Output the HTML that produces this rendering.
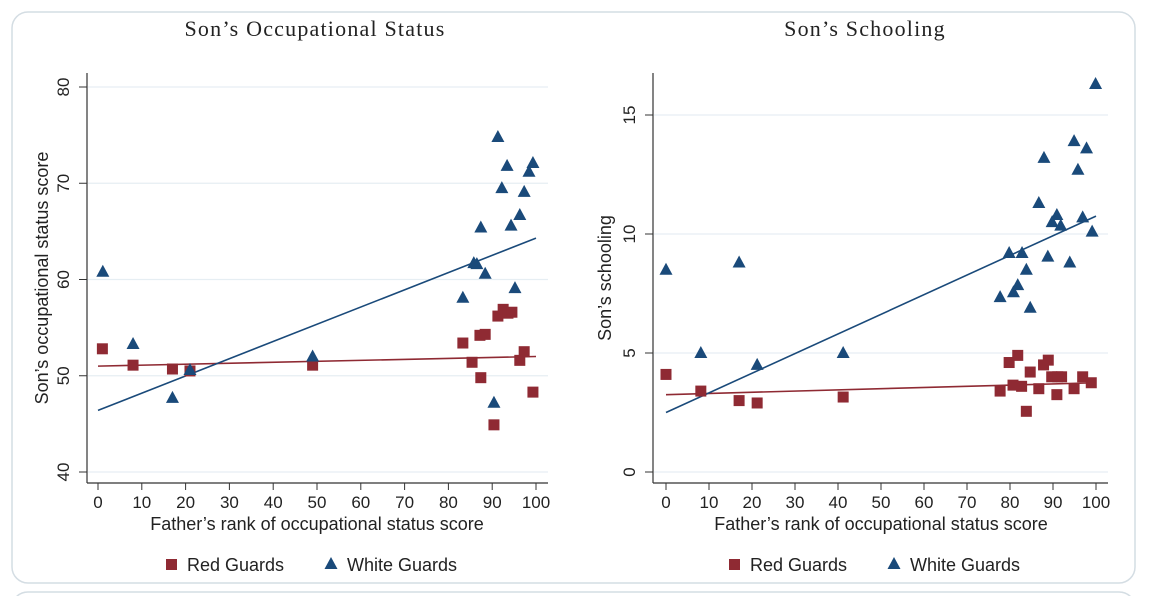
<!DOCTYPE html>
<html><head><meta charset="utf-8">
<style>
html,body{margin:0;padding:0;background:#fff;width:1152px;height:596px;overflow:hidden}
svg{display:block}
text{font-family:"Liberation Sans",sans-serif;fill:#222}
.ttl{font-family:"Liberation Serif",serif;font-size:22px;letter-spacing:1.2px}
</style></head>
<body>
<svg id="chart" width="1152" height="596">
<rect x="12" y="12" width="1123" height="571" rx="16" fill="#fff" stroke="#d4dde3" stroke-width="1.5"/>
<rect x="12" y="592" width="1123" height="30" rx="16" fill="#fff" stroke="#d4dde3" stroke-width="1.5"/>
</svg>
<script>
// Left panel data
const leftRedX=[1,8,17,21,49,83.3,85.4,87.2,88.4,87.4,91.3,92.5,93.6,94.5,97.3,96.3,99.3,90.4];
const leftRedY=[52.8,51.1,50.7,50.5,51.1,53.4,51.4,54.2,54.3,49.8,56.2,56.9,56.5,56.6,52.5,51.6,48.3,44.9];
const leftWhiteX=[1.1,8,17,21,49,91.3,93.4,99.3,98.4,92.2,97.3,96.3,94.3,87.4,85.8,86.5,88.4,95.2,83.3,90.4];
const leftWhiteY=[60.8,53.3,47.7,50.6,52.0,74.8,71.8,72.1,71.2,69.5,69.1,66.7,65.6,65.4,61.7,61.6,60.6,59.1,58.1,47.2];
const leftFitRed=[51.0,52.0];
const leftFitWhite=[46.4,64.3];
const leftYTicks=[40,50,60,70,80];
// Right panel data
const rightRedX=[0,8.1,17,21.2,41.2,79.8,81.8,84.7,87.8,88.9,89.7,91.1,92.0,96.9,98.9,77.7,80.7,82.7,86.7,94.9,90.9,83.8];
const rightRedY=[4.1,3.4,3.0,2.9,3.15,4.6,4.9,4.2,4.5,4.7,4.0,4.0,4.0,4.0,3.75,3.4,3.65,3.6,3.5,3.5,3.25,2.55];
const rightWhiteX=[0,8.1,17,21.2,41.2,99.9,94.9,97.8,87.9,95.8,86.7,90.9,89.8,91.8,96.9,99.1,79.8,82.8,88.8,93.9,83.8,81.8,80.8,77.7,84.7];
const rightWhiteY=[8.5,5.0,8.8,4.5,5.0,16.3,13.9,13.6,13.2,12.7,11.3,10.8,10.5,10.35,10.7,10.1,9.2,9.2,9.05,8.8,8.5,7.85,7.55,7.35,6.9];
const rightFitRed=[3.25,3.75];
const rightFitWhite=[2.5,10.75];
const rightYTicks=[0,5,10,15];
const xTicks=[0,10,20,30,40,50,60,70,80,90,100];

const NS="http://www.w3.org/2000/svg";
const svg=document.getElementById('chart');
function mk(tag,attrs,parent){const e=document.createElementNS(NS,tag);for(const k in attrs)e.setAttribute(k,attrs[k]);(parent||svg).appendChild(e);return e;}
const RED="#8f2a33",BLUE="#1a4a7a";

function panel(p){
  const g=mk('g',{});
  
  
  const sx=v=>p.x0+(v-0)*(p.x100-p.x0)/100;
  const sy=v=>p.yA+(v-p.vA)*(p.yB-p.yA)/(p.vB-p.vA);
  p.yt.forEach(t=>{
    const gl=mk('line',{x1:p.ax+1,x2:p.right,y1:sy(t),y2:sy(t),stroke:'#e6eef3','stroke-width':1.2},g);
    
    
    mk('line',{x1:p.ax-8,x2:p.ax,y1:sy(t),y2:sy(t),stroke:'#333','stroke-width':1},g);
    const tl=mk('text',{x:p.ax-18,y:sy(t),'font-size':17,'text-anchor':'middle',transform:`rotate(-90 ${p.ax-18} ${sy(t)})`,dy:'0'},g);
    tl.textContent=t;
    
    
  });
  const ya=mk('line',{x1:p.ax,x2:p.ax,y1:p.top,y2:p.bot,stroke:'#333','stroke-width':1.2},g);
  
  
  const xa=mk('line',{x1:p.ax,x2:p.right,y1:p.bot,y2:p.bot,stroke:'#333','stroke-width':1.2},g);
  
  
  xTicks.forEach(t=>{
    mk('line',{x1:sx(t),x2:sx(t),y1:p.bot,y2:p.bot+7,stroke:'#333','stroke-width':1},g);
    const tl=mk('text',{x:sx(t),y:p.bot+25,'font-size':17,'text-anchor':'middle'},g);
    tl.textContent=t;
    
    
  });
  const fr=mk('line',{x1:sx(0),y1:sy(p.fr[0]),x2:sx(100),y2:sy(p.fr[1]),stroke:RED,'stroke-width':1.6},g);
  
  
  const fw=mk('line',{x1:sx(0),y1:sy(p.fw[0]),x2:sx(100),y2:sy(p.fw[1]),stroke:BLUE,'stroke-width':1.6},g);
  
  
  p.rx.forEach((v,i)=>{
    const r=mk('rect',{x:sx(v)-5.5,y:sy(p.ry[i])-5.5,width:11,height:11,fill:RED},g);
    
    
  });
  p.wx.forEach((v,i)=>{
    const cx=sx(v),cy=sy(p.wy[i]);
    const t=mk('polygon',{points:`${cx},${cy-7} ${cx-6.5},${cy+5} ${cx+6.5},${cy+5}`,fill:BLUE},g);
    
    
  });
  const tt=mk('text',{x:p.tx,y:36,'text-anchor':'middle',class:'ttl'},g);
  tt.textContent=p.title;
  
  
  const yl=mk('text',{x:p.ylx,y:p.yly,'font-size':18,'text-anchor':'middle',transform:`rotate(-90 ${p.ylx} ${p.yly})`},g);
  yl.textContent=p.ylab;
  
  
  const xl=mk('text',{x:(p.x0+p.x100)/2,y:530,'font-size':18,'text-anchor':'middle'},g);
  xl.textContent="Father’s rank of occupational status score";
  
  
  const lr=mk('rect',{x:p.lx,y:559,width:11,height:11,fill:RED},g);
  
  
  const lt=mk('text',{x:p.lx+21,y:571,'font-size':18},g);
  lt.textContent="Red Guards";
  
  
  const bx=p.lx+160;
  const lw=mk('polygon',{points:`${bx+5},557 ${bx-1.5},569 ${bx+11.5},569`,fill:BLUE},g);
  
  
  const lt2=mk('text',{x:bx+21,y:571,'font-size':18},g);
  lt2.textContent="White Guards";
  
  
}
panel({name:'occupational-status-panel',x0:98,x100:536,yA:472,vA:40,yB:87,vB:80,ax:87,top:73,bot:483,right:548,
  yt:leftYTicks,rx:leftRedX,ry:leftRedY,wx:leftWhiteX,wy:leftWhiteY,fr:leftFitRed,fw:leftFitWhite,
  tx:315,title:"Son’s Occupational Status",ylab:"Son’s occupational status score",ylx:48,yly:278,lx:166});
panel({name:'schooling-panel',x0:666,x100:1096,yA:472,vA:0,yB:115,vB:15,ax:653,top:73,bot:483,right:1108,
  yt:rightYTicks,rx:rightRedX,ry:rightRedY,wx:rightWhiteX,wy:rightWhiteY,fr:rightFitRed,fw:rightFitWhite,
  tx:865,title:"Son’s Schooling",ylab:"Son’s schooling",ylx:611,yly:278,lx:729});
</script>
</body></html>
